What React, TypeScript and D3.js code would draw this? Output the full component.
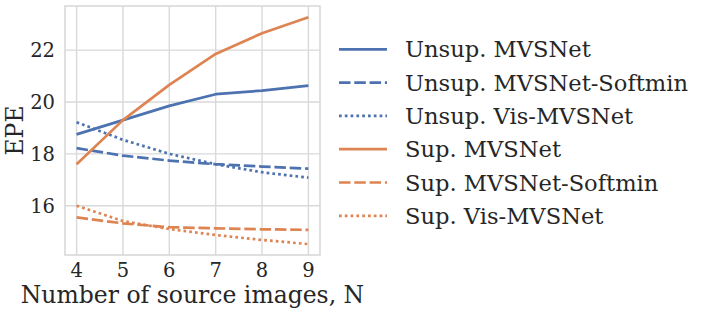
import { useMemo } from "react";
import { scaleLinear, line as d3Line } from "d3";

const sourceImages = [4, 5, 6, 7, 8, 9];
const yTicks = [16, 18, 20, 22];

const unsupMVSNet = [18.75, 19.3, 19.85, 20.3, 20.44, 20.63];
const unsupSoftmin = [18.22, 17.93, 17.74, 17.6, 17.51, 17.43];
const unsupVis = [19.22, 18.54, 18.0, 17.6, 17.29, 17.08];
const supMVSNet = [17.6, 19.3, 20.66, 21.85, 22.65, 23.27];
const supSoftmin = [15.55, 15.32, 15.17, 15.13, 15.09, 15.07];
const supVis = [16.0, 15.41, 15.1, 14.87, 14.68, 14.52];

const seriesNames = [
  "Unsup. MVSNet",
  "Unsup. MVSNet-Softmin",
  "Unsup. Vis-MVSNet",
  "Sup. MVSNet",
  "Sup. MVSNet-Softmin",
  "Sup. Vis-MVSNet",
];
const seriesValues = [unsupMVSNet, unsupSoftmin, unsupVis, supMVSNet, supSoftmin, supVis];

const BLUE = "#4C72B0";
const ORANGE = "#DD8452";
const TEXT = "#262626";
const GRID = "#d9d9d9";
const LW = 2.7;
const DASHES = [undefined, "11.5 3.8", "2.7 3.1"];

const PLOT = { left: 65, right: 320, top: 6, bottom: 255 };
const FONT = "'DejaVu Serif', serif";

export default function App() {
  const x = useMemo(
    () => scaleLinear().domain([3.75, 9.25]).range([PLOT.left, PLOT.right]),
    []
  );
  const y = useMemo(
    () => scaleLinear().domain([14.1, 23.7]).range([PLOT.bottom, PLOT.top]),
    []
  );

  const lineGen = d3Line<number>()
    .x((_, i) => x(sourceImages[i]))
    .y((d) => y(d));

  return (
    <svg
      width={706}
      height={315}
      style={{ position: "absolute", left: 0, top: 0, background: "#fff" }}
      fontFamily={FONT}
    >
      {/* grid */}
      {sourceImages.map((v) => (
        <line key={"gx" + v} x1={x(v)} x2={x(v)} y1={PLOT.top} y2={PLOT.bottom} stroke={GRID} strokeWidth={1.4} />
      ))}
      {yTicks.map((v) => (
        <line key={"gy" + v} x1={PLOT.left} x2={PLOT.right} y1={y(v)} y2={y(v)} stroke={GRID} strokeWidth={1.4} />
      ))}
      <rect
        x={PLOT.left}
        y={PLOT.top}
        width={PLOT.right - PLOT.left}
        height={PLOT.bottom - PLOT.top}
        fill="none"
        stroke={GRID}
        strokeWidth={1.6}
      />

      {/* series */}
      {seriesValues.map((vals, i) => (
        <path
          key={seriesNames[i]}
          d={lineGen(vals) ?? ""}
          fill="none"
          stroke={i < 3 ? BLUE : ORANGE}
          strokeWidth={LW}
          strokeDasharray={DASHES[i % 3]}
          strokeLinejoin="round"
        />
      ))}

      {/* tick labels */}
      {sourceImages.map((v) => (
        <text key={"tx" + v} x={x(v)} y={276.5} textAnchor="middle" fontSize={19.5} fill={TEXT}>
          {v}
        </text>
      ))}
      {yTicks.map((v) => (
        <text key={"ty" + v} x={55} y={y(v)} dy="0.36em" textAnchor="end" fontSize={19.5} fill={TEXT}>
          {v}
        </text>
      ))}

      {/* axis labels */}
      <text x={(PLOT.left + PLOT.right) / 2} y={303} textAnchor="middle" fontSize={23.5} fill={TEXT}>
        Number of source images, N
      </text>
      <text
        transform={`translate(23,${(PLOT.top + PLOT.bottom) / 2}) rotate(-90)`}
        textAnchor="middle"
        fontSize={23.5}
        fill={TEXT}
      >
        EPE
      </text>

      {/* legend */}
      {seriesNames.map((name, i) => {
        const cy = 49.3 + i * 33.3;
        return (
          <g key={"lg" + name}>
            <line
              x1={339}
              x2={387}
              y1={cy}
              y2={cy}
              stroke={i < 3 ? BLUE : ORANGE}
              strokeWidth={LW}
              strokeDasharray={DASHES[i % 3]}
            />
            <text x={405} y={cy} dy="0.36em" fontSize={22.6} fill={TEXT}>
              {name}
            </text>
          </g>
        );
      })}
    </svg>
  );
}
